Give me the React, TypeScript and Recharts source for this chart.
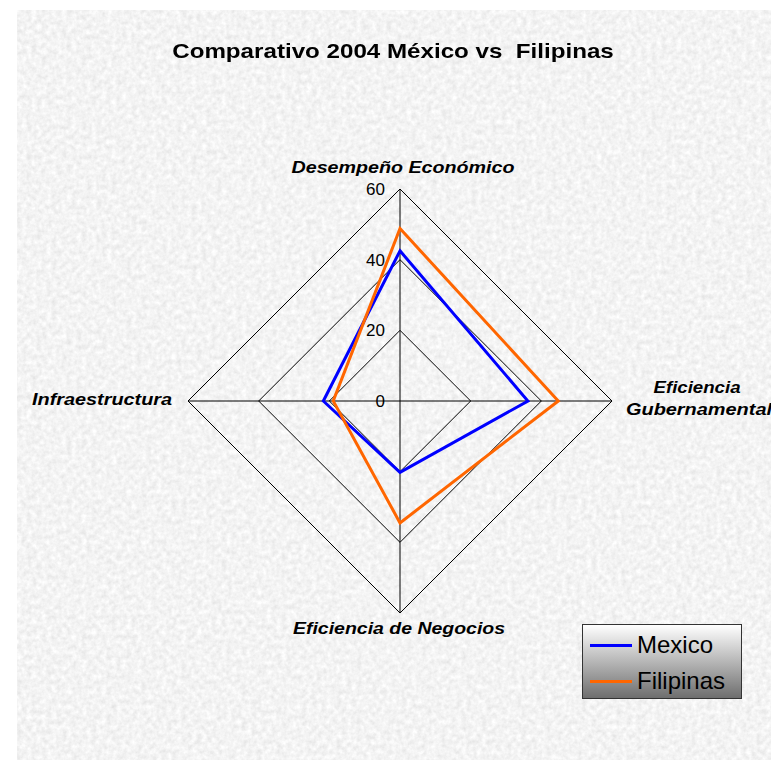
import { RadarChart, Radar, PolarGrid, PolarAngleAxis, PolarRadiusAxis, Legend } from 'recharts';

const categories = ['Desempeño Económico', 'Eficiencia Gubernamental', 'Eficiencia de Negocios', 'Infraestructura'];
const mexico = [42.5, 36.2, 20.2, 21.7];
const filipinas = [48.8, 44.8, 34.5, 18.9];
const radiusTicks = [0, 20, 40, 60];

const data = categories.map((name, i) => ({ name, Mexico: mexico[i], Filipinas: filipinas[i] }));

const FONT = '"Liberation Sans", Arial, sans-serif';

// the original export is stretched sideways, so labels get a textLength
const AngleTick = (props: any) => {
  const { x, y, payload } = props;
  const st = {
    fontFamily: FONT, fontSize: 16, fontWeight: 'bold' as const, fontStyle: 'italic' as const, fill: '#000',
    lengthAdjust: 'spacingAndGlyphs' as const,
  };
  const v = payload.value;
  if (v === 'Eficiencia Gubernamental') {
    return (
      <g>
        <text x={x + 77} y={y - 8} textAnchor="middle" textLength={87} {...st}>Eficiencia</text>
        <text x={x + 79} y={y + 14} textAnchor="middle" textLength={146} {...st}>Gubernamental</text>
      </g>
    );
  }
  if (v === 'Infraestructura') {
    return <text x={x - 8} y={y + 4} textAnchor="end" textLength={140} {...st}>{v}</text>;
  }
  if (v === 'Eficiencia de Negocios') {
    return <text x={x - 1} y={y + 13} textAnchor="middle" textLength={212} {...st}>{v}</text>;
  }
  return <text x={x + 3} y={y - 8} textAnchor="middle" textLength={223} {...st}>{v}</text>;
};

const RadiusTick = (props: any) => {
  const { x, y, payload } = props;
  return (
    <text x={x - 15} y={y + 6} textAnchor="end" fontFamily={FONT} fontSize={17} fill="#000">
      {payload.value}
    </text>
  );
};

const LegendBox = () => (
  <div style={{
    width: 158, height: 73, border: '1px solid #333',
    background: 'linear-gradient(#ffffff, #6e6e6e)', fontFamily: FONT, fontSize: 24, color: '#000',
    boxSizing: 'content-box',
  }}>
    {[['Mexico', '#0000ff'], ['Filipinas', '#ff6600']].map(([n, c], i) => (
      <div key={n} style={{ display: 'flex', alignItems: 'center', height: 36, marginTop: i === 0 ? 2 : 0 }}>
        <div style={{ width: 42, height: 3, background: c, marginLeft: 7, marginRight: 5 }} />
        <span style={{ lineHeight: '24px' }}>{n}</span>
      </div>
    ))}
  </div>
);

export default function App() {
  return (
    <div style={{ padding: '8px 0 0 8px', width: 763, height: 752 }}>
      <style>{'html,body{overflow:hidden;margin:0}'}</style>
      <div style={{ position: 'relative', width: 763, height: 752 }}>
        <svg style={{ position: 'absolute', left: 9, top: 2 }} width={754} height={750}>
          <filter id="paper">
            <feTurbulence type="fractalNoise" baseFrequency="0.2" numOctaves={3} seed={4} />
            <feColorMatrix type="matrix" values="0.3 0 0 0 0.75  0.3 0 0 0 0.75  0.3 0 0 0 0.75  0 0 0 0 1" />
          </filter>
          <rect width={754} height={750} fill="#e4e4e4" filter="url(#paper)" />
        </svg>
        <div style={{
          position: 'absolute', left: 0, top: 31, width: 770, textAlign: 'center',
          fontFamily: FONT, fontSize: 21, fontWeight: 'bold', whiteSpace: 'pre', transform: 'scaleX(1.15)',
        }}>
          {'Comparativo 2004 México vs  Filipinas'}
        </div>
        <div style={{ position: 'absolute', left: 0, top: 0 }}>
          <RadarChart width={763} height={752} data={data} cx={392} cy={393} outerRadius={212}>
            <PolarGrid gridType="polygon" stroke="#000" strokeWidth={1} />
            <PolarAngleAxis dataKey="name" tick={<AngleTick />} tickLine={false} axisLine={false} />
            <PolarRadiusAxis angle={90} domain={[0, 60]} ticks={radiusTicks as any} tickCount={4}
              axisLine={false} tickLine={false} tick={<RadiusTick />} />
            <Radar name="Mexico" dataKey="Mexico" stroke="#0000ff" strokeWidth={3} fill="none" fillOpacity={0}
              dot={false} isAnimationActive={false} />
            <Radar name="Filipinas" dataKey="Filipinas" stroke="#ff6600" strokeWidth={3} fill="none" fillOpacity={0}
              dot={false} isAnimationActive={false} />
            <Legend content={<LegendBox />}
              wrapperStyle={{ position: 'absolute', left: 574, top: 616, width: 'auto', height: 'auto', bottom: 'auto' }} />
          </RadarChart>
        </div>
      </div>
    </div>
  );
}
